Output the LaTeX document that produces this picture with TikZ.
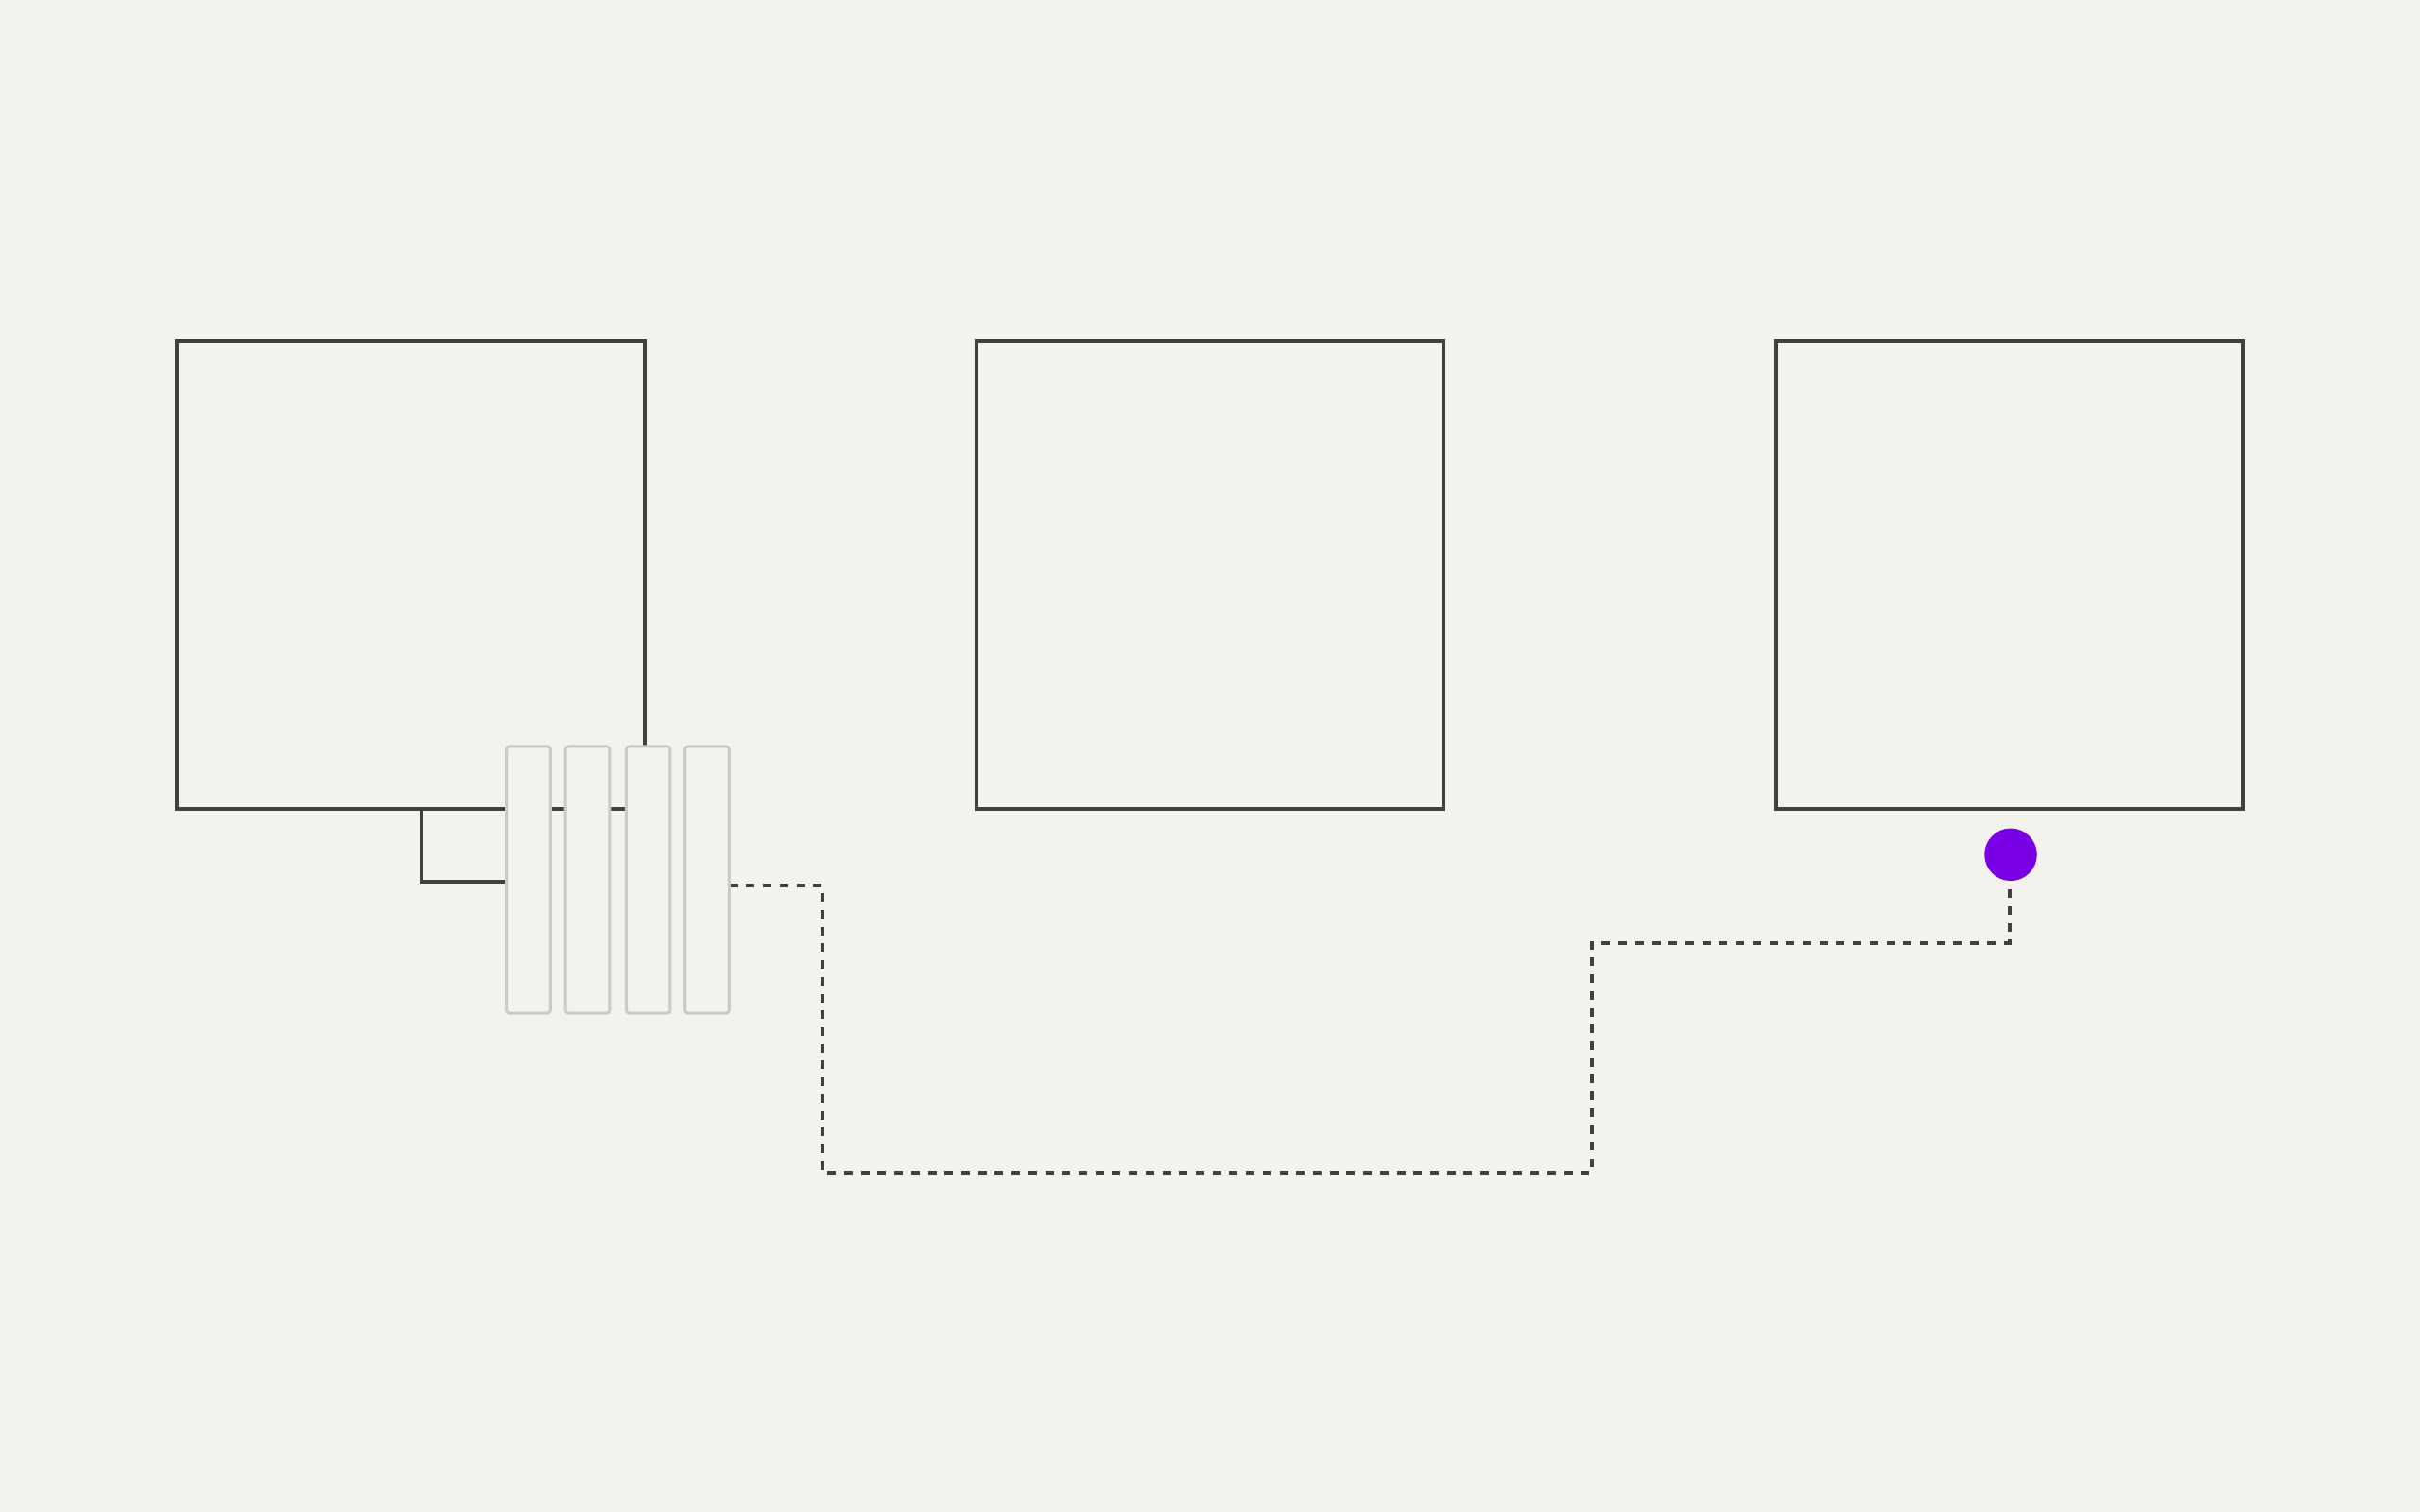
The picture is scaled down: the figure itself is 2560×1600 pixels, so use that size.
\documentclass[tikz,border=0pt]{standalone}
\definecolor{bg}{HTML}{F3F2ED}
\definecolor{ink}{HTML}{3E4140}
\definecolor{pale}{HTML}{CBCBC6}
\definecolor{violet}{HTML}{7A00E6}
\begin{document}
\begin{tikzpicture}[x=0.01cm,y=-0.01cm,
  box/.style={draw=ink,line width=0.04cm,minimum width=4.94cm,minimum height=4.95cm,inner sep=0pt,outer sep=0pt},
  slot/.style={draw=pale,fill=bg,line width=0.03cm,rounded corners=0.03cm,minimum width=0.465cm,minimum height=2.82cm,inner sep=0pt,outer sep=0pt},
  wire/.style={draw=ink,line width=0.04cm,line join=miter},
  dashwire/.style={wire,dash pattern=on 0.09cm off 0.087cm},
  dot/.style={circle,fill=violet,minimum size=0.555cm,inner sep=0pt,outer sep=0pt}]
\fill[bg] (0,0) rectangle (2560,1600);
\useasboundingbox (0,0) rectangle (2560,1600);
% boxes
\node[box] (b1) at (434.4,608.5) {};
\node[box] (b2) at (1280,608.5) {};
\node[box] (b3) at (2125.8,608.5) {};
\node[dot] (dot) at (2127,904.3) {};
% connectors
\coordinate (j1) at (446,856);
\draw[wire] (j1) |- (535.7,932.7);
\coordinate (d0) at (771.7,937.3);
\coordinate (d5) at (2125.5,939);
\draw[dashwire] (d0) -| (870,1241) -| (1684,997.5) -| (d5);
% slots
\node[slot] (s1) at (559,931) {};
\node[slot] (s2) at (621.5,931) {};
\node[slot] (s3) at (685.7,931) {};
\node[slot] (s4) at (748,931) {};
\end{tikzpicture}
\end{document}
